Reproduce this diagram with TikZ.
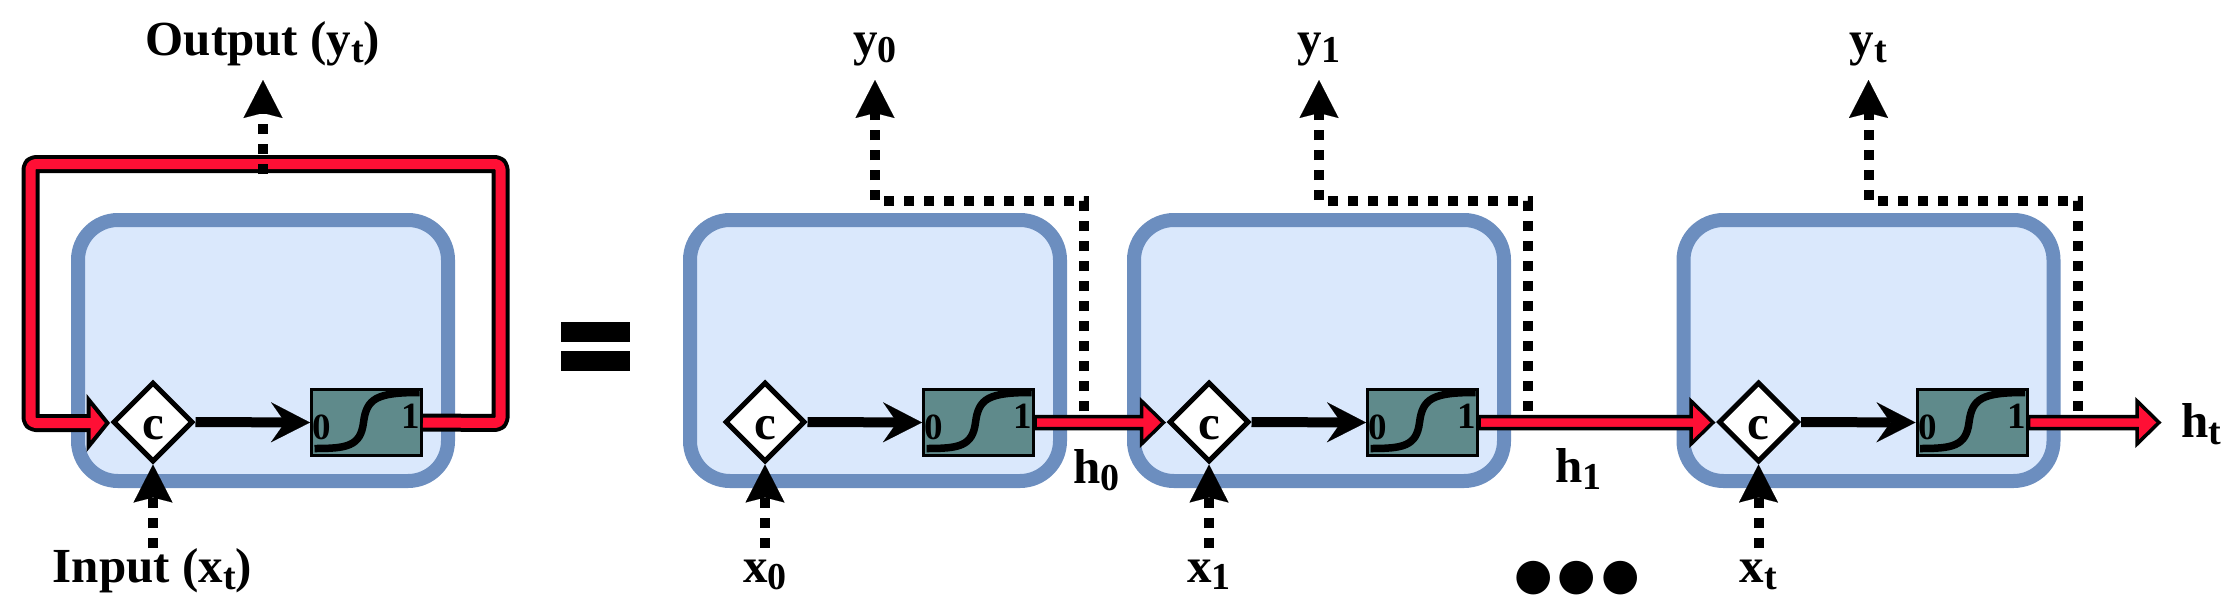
\documentclass[tikz,border=0pt]{standalone}
\usepackage{fontspec}
\setmainfont{Liberation Serif}
\newfontfamily\dejavu{DejaVu Sans}
\usetikzlibrary{shapes.geometric,arrows.meta,calc}
\definecolor{cellfill}{HTML}{DAE8FC}
\definecolor{celldraw}{HTML}{6C8EBF}
\definecolor{redc}{HTML}{FF0F35}
\definecolor{sigfill}{HTML}{5F8A8B}
\newcommand{\sbs}[1]{\raisebox{-0.16em}{\fontsize{38}{38}\selectfont #1}}
\tikzset{
  lbl/.style={font=\fontsize{49}{55}\selectfont\bfseries, inner sep=0pt},
  cellbox/.style={draw=celldraw, fill=cellfill, line width=14pt, rounded corners=40pt,
    minimum width=370pt, minimum height=261pt, inner sep=0pt},
  gate/.style={diamond, draw=black, fill=white, line width=5pt, minimum width=80pt,
    minimum height=80pt, inner sep=0pt, font=\fontsize{49}{55}\selectfont\bfseries,
    text height=35pt, text depth=0pt},
  sigbox/.style={rectangle, draw=black, fill=sigfill, line width=3pt,
    minimum width=110pt, minimum height=66pt, inner sep=0pt},
  digit/.style={font=\fontsize{37}{37}\selectfont\bfseries, inner sep=0pt},
  sigcurve/.style={line width=7.5pt},
  flow/.style={line width=10pt, -{Stealth[length=39pt, width=40pt, inset=14pt, line width=0.1pt]}},
  dots/.style={line width=10pt, dash pattern=on 10pt off 10pt,
    -{Stealth[length=38pt, width=39pt, inset=5pt, line width=0.1pt]}},
  fatarrow/.style={draw=black, fill=redc, line width=3.5pt, line join=miter,
    to path={let \p1=(\tikztostart), \p2=(\tikztotarget) in
      (\x1,\y1+6pt) -- (\x2-25pt,\y1+6pt) -- (\x2-25pt,\y1+21.5pt) -- (\x2-3pt,\y1)
      -- (\x2-25pt,\y1-21.5pt) -- (\x2-25pt,\y1-6pt) -- (\x1,\y1-6pt) -- cycle}},
  loopout/.style={line width=18pt, rounded corners=5pt, line join=round},
  loopin/.style={redc, line width=10pt, rounded corners=5pt, line join=round},
  headtri/.style={draw=black, fill=redc, line width=4pt, line join=miter},
}
\begin{document}
\begin{tikzpicture}[x=1pt,y=-1pt]
\useasboundingbox (0,0) rectangle (2238,613);
% cells
\foreach \i/\L in {0/71,1/683,2/1127,3/1676.5}{
  \node[cellbox] (c\i) at (\L+192,350.5) {};
  \node[gate] (d\i) at (\L+82,422) {c};
  \node[sigbox] (s\i) at (\L+295.5,422.5) {};
  \begin{scope}[shift={(s\i.center)}]
    \draw[sigcurve] (-52,26) .. controls (-20,26) and (-6,24) .. (-3,0)
      .. controls (0,-24) and (10,-30) .. (53,-30);
  \end{scope}
  \node[digit] (z\i) at ($(s\i.center)+(-44.5,5)$) {0};
  \node[digit] (o\i) at ($(s\i.center)+(44.5,-6)$) {1};
  \draw[flow] (d\i.east) -- (s\i.west);
  \coordinate (xin\i) at (\L+82,548);
  \draw[dots] (xin\i) -- (d\i.south);
}
% left recurrent loop
\coordinate (l1) at (500.5,423);
\coordinate (l2) at (500.5,164);
\coordinate (l3) at (30.5,164);
\coordinate (l4) at (30.5,423);
\coordinate (lh) at ($(d0.west)+(-22,1)$);
\draw[loopout] (s0.east) -- (l1) -- (l2) -- (l3) -- (l4) -- (lh);
\draw[headtri] ($(d0.west)+(-22,-22.5)$) -- ($(d0.west)+(-3,1)$) -- ($(d0.west)+(-22,24.5)$) -- cycle;
\draw[loopin] (s0.east) -- (l1) -- (l2) -- (l3) -- (l4) -- ($(lh)+(4,0)$);
\coordinate (ob0) at (263,174);
\coordinate (ot0) at (263,80);
\draw[dots] (ob0) -- (ot0);
\node[lbl, anchor=base] (outl) at (263,55) {Output (y\sbs{t})};
\node[lbl, anchor=base] (inl) at (152.5,582) {Input (x\sbs{t})};
% equals sign
\fill (561,322) rectangle (630,342);
\fill (561,351) rectangle (630,371);
% unrolled labels and outputs
\foreach \i/\L/\lab in {1/683/0,2/1127/1,3/1676.5/t}{
  \node[lbl, anchor=base] (y\i) at (\L+192,55) {y\sbs{\lab}};
  \node[lbl, anchor=base] (x\i) at (\L+82,582) {x\sbs{\lab}};
  \coordinate (ob\i) at (\L+401,411);
  \coordinate (oc\i) at (\L+401,201);
  \coordinate (od\i) at (\L+192,201);
  \coordinate (ot\i) at (\L+192,80);
  \draw[dots] (ob\i) -- (oc\i) -- (od\i) -- (ot\i);
}
% hidden-state arrows
\coordinate (hend) at (2162,423);
\draw[fatarrow] (s1.east) to (d2.west);
\draw[fatarrow] (s2.east) to (d3.west);
\draw[fatarrow] (s3.east) to (hend);
\node[lbl, anchor=base west] (h0) at (1073,483) {h\sbs{0}};
\node[lbl, anchor=base west] (h1) at (1555,482) {h\sbs{1}};
\node[lbl, anchor=base west] (ht) at (2181,437) {h\sbs{t}};
\node[font=\dejavu\fontsize{44}{44}\selectfont, inner sep=0pt] (ell) at (1577,578) {●\kern5pt●\kern5pt●};
\end{tikzpicture}
\end{document}
